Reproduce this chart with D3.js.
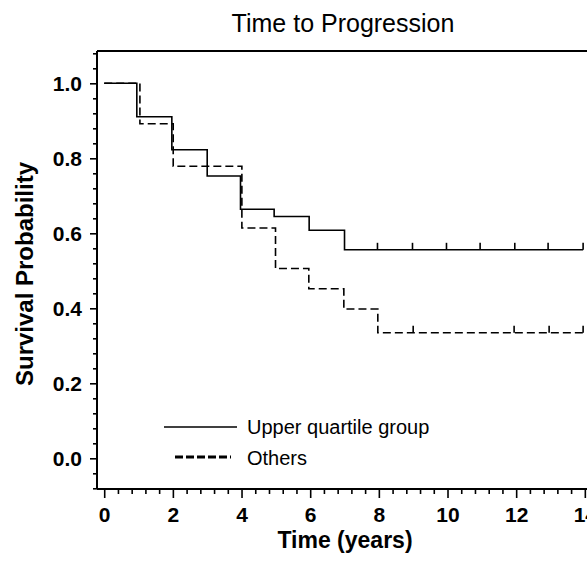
<!DOCTYPE html>
<html>
<head>
<script src="https://d3js.org/d3.v7.min.js"></script>
<style>
  body { margin: 0; background: #fff; }
  svg { font-family: "Liberation Sans", Arial, sans-serif; }
  .axis .domain { display: none; }
  .axis line { stroke: #000; stroke-width: 1.6; }
  .axis text { font-weight: bold; font-size: 21px; fill: #000; }
</style>
</head>
<body>
<svg id="chart" width="587" height="562"></svg>
<script>
// Kaplan-Meier step points (time in years, survival)
const upperTimes = [0, 0.95, 1.97, 3.0, 3.97, 4.95, 5.97, 7.0];
const upperSurv  = [1.0, 0.911, 0.823, 0.753, 0.664, 0.645, 0.608, 0.556];
const upperEnd = 13.95;
const upperCensor = [7.96, 8.98, 9.97, 10.95, 11.96, 12.93, 13.95];

const otherTimes = [0, 1.04, 2.01, 4.01, 4.99, 5.96, 6.98, 7.97];
const otherSurv  = [1.0, 0.892, 0.779, 0.614, 0.506, 0.452, 0.398, 0.335];
const otherEnd = 13.95;
const otherCensor = [9.0, 11.94, 12.96, 13.95];

const xTicks = [0, 2, 4, 6, 8, 10, 12, 14];
const yTicks = [0.0, 0.2, 0.4, 0.6, 0.8, 1.0];
const legendLabels = ['Upper quartile group', 'Others'];

const svg = d3.select('#chart');
const plotLeft = 97, plotTop = 51, plotBottom = 489;

const x = d3.scaleLinear().domain([-0.21, 14.5]).range([plotLeft, plotLeft + 14.71 * 34.33]);
const y = d3.scaleLinear().domain([0, 1]).range([458.3, 83.3]);

// frame: left, top, bottom lines
svg.append('line').attr('x1', plotLeft).attr('x2', 600).attr('y1', plotTop).attr('y2', plotTop)
  .attr('stroke', '#000').attr('stroke-width', 2);
svg.append('line').attr('x1', plotLeft).attr('x2', 600).attr('y1', plotBottom).attr('y2', plotBottom)
  .attr('stroke', '#000').attr('stroke-width', 2);
svg.append('line').attr('x1', plotLeft).attr('x2', plotLeft).attr('y1', plotTop).attr('y2', plotBottom)
  .attr('stroke', '#000').attr('stroke-width', 2);

// y minor ticks
const yMinor = d3.range(-0.08, 1.081, 0.04).filter(v => Math.abs(Math.round(v * 5) - v * 5) > 0.01);
svg.append('g').attr('class', 'axis')
  .attr('transform', `translate(${plotLeft},0)`)
  .call(d3.axisLeft(y).tickValues(yMinor).tickSize(4).tickFormat(''));
svg.append('g').attr('class', 'axis')
  .attr('transform', `translate(${plotLeft},0)`)
  .call(d3.axisLeft(y).tickValues(yTicks).tickSize(7).tickPadding(8).tickFormat(d3.format('.1f')));

// x minor ticks
const xMinor = d3.range(0, 14.5, 0.4).filter(v => Math.abs(v / 2 - Math.round(v / 2)) > 0.01);
svg.append('g').attr('class', 'axis')
  .attr('transform', `translate(0,${plotBottom})`)
  .call(d3.axisBottom(x).tickValues(xMinor).tickSize(5).tickFormat(''));
svg.append('g').attr('class', 'axis')
  .attr('transform', `translate(0,${plotBottom})`)
  .call(d3.axisBottom(x).tickValues(xTicks).tickSize(9).tickPadding(9).tickFormat(d3.format('d')));

// step curves
function stepData(times, surv, end) {
  const pts = times.map((t, i) => [t, surv[i]]);
  pts.push([end, surv[surv.length - 1]]);
  return pts;
}
const line = d3.line().x(d => x(d[0])).y(d => y(d[1])).curve(d3.curveStepAfter);

svg.append('path').datum(stepData(otherTimes, otherSurv, otherEnd))
  .attr('d', line).attr('fill', 'none').attr('stroke', '#000')
  .attr('stroke-width', 1.6).attr('stroke-dasharray', '8,4');
svg.append('path').datum(stepData(upperTimes, upperSurv, upperEnd))
  .attr('d', line).attr('fill', 'none').attr('stroke', '#000')
  .attr('stroke-width', 1.6);

// censor marks
const lastUpper = upperSurv[upperSurv.length - 1];
svg.selectAll('.cu').data(upperCensor).enter().append('line')
  .attr('x1', d => x(d)).attr('x2', d => x(d))
  .attr('y1', y(lastUpper)).attr('y2', y(lastUpper) - 7)
  .attr('stroke', '#000').attr('stroke-width', 1.6);
const lastOther = otherSurv[otherSurv.length - 1];
svg.selectAll('.co').data(otherCensor).enter().append('line')
  .attr('x1', d => x(d)).attr('x2', d => x(d))
  .attr('y1', y(lastOther)).attr('y2', y(lastOther) - 7)
  .attr('stroke', '#000').attr('stroke-width', 1.6);

// legend
svg.append('line').attr('x1', 164).attr('x2', 237).attr('y1', 427).attr('y2', 427)
  .attr('stroke', '#000').attr('stroke-width', 1.6);
svg.append('line').attr('x1', 175).attr('x2', 231).attr('y1', 457).attr('y2', 457)
  .attr('stroke', '#000').attr('stroke-width', 3).attr('stroke-dasharray', '8,3');
svg.selectAll('.leg').data(legendLabels).enter().append('text')
  .attr('x', 247).attr('y', (d, i) => 434 + i * 31)
  .attr('font-size', 20).text(d => d);

// titles
svg.append('text').attr('x', 343).attr('y', 32).attr('text-anchor', 'middle')
  .attr('font-size', 25).text('Time to Progression');
svg.append('text').attr('x', 345).attr('y', 548).attr('text-anchor', 'middle')
  .attr('font-size', 23).attr('font-weight', 'bold').text('Time (years)');
svg.append('text').attr('transform', 'translate(33,274) rotate(-90)')
  .attr('text-anchor', 'middle').attr('font-size', 24).attr('font-weight', 'bold')
  .text('Survival Probability');
</script>
</body>
</html>
